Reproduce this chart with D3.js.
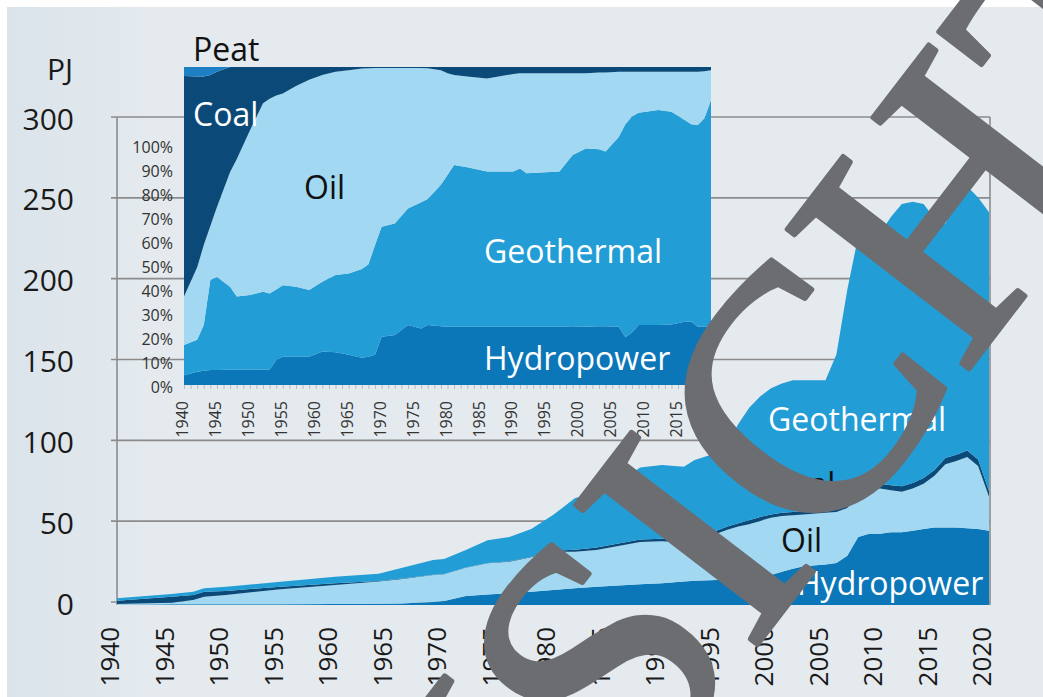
<!DOCTYPE html>
<html>
<head>
<meta charset="utf-8">
<title>Primary energy use 1940-2020</title>
<script src="https://d3js.org/d3.v7.min.js"></script>
<style>
	body { margin: 0; background: #fff; }
	svg { display: block; font-family: "Open Sans", "Noto Sans", sans-serif; }
	.grid { stroke: #8b8b8b; stroke-width: 1.6; }
	.ylab { font-size: 30px; fill: #1a1a1a; }
	.xlab { font-size: 26px; fill: #1a1a1a; }
	.ilab { font-size: 16px; fill: #333; }
	.area-label { font-size: 32px; }
</style>
</head>
<body>
<script>

// ---------------- main chart, PJ per source ----------------
var years      = [1940,1945,1947,1948,1950,1955,1960,1964,1966,1969,1970,1972,1974,1976,1978,1980,1982,1984,1986,1988,1990,1992,1993,1995,1996,1997,1998,1999,2000,2001,2002,2003,2005,2006,2007,2008,2009,2010,2011,2012,2013,2014,2015,2016,2017,2018,2019,2020];
var hydropower = [0.2,0.4,0.5,0.5,0.5,0.5,0.6,0.8,1.0,1.8,2.5,5.5,6.5,7.2,8.2,9.3,10.3,11.3,12.0,12.8,13.5,14.5,15.0,15.5,15.8,16.2,16.5,17.5,18.5,20.5,22.5,24.0,25.0,26.0,30.5,42,44,44,45,45,46,47,48,48,48,47.5,47,46];
var oil        = [0.4,1.0,2.6,4.6,5.7,9.2,11.8,13.7,15.0,16.7,16.5,17.5,19.3,19.6,21.3,23.7,22.7,22.7,24.5,26.2,26.0,24.0,25.0,28.5,30.7,32.3,33.5,34.5,35.5,34.5,33.0,32.0,32.0,31.5,29.5,27,28,28,26,25,26,28,32,39,41,44,39,21];
var coal       = [2.1,3.7,3.1,3.1,2.5,1.6,1.0,0.4,0.3,0.2,0.2,0.2,0.2,0.3,0.4,0.6,1.2,1.5,1.5,1.5,1.5,2,2,2,2,2,2.5,2.5,2,2,2,2,2,2,2.5,3,3,3,3,3.5,3.5,3.5,3.5,4,4,4,4,3.5];
var geothermal = [1.4,1.7,2.0,2.1,2.6,3.1,4.1,4.4,6.4,9.1,9.3,10.8,14.0,14.9,17.1,22.0,31.8,34.5,38.0,44.5,45.6,45.0,47.7,48.0,51.5,61.5,69.5,74.5,78.0,80.0,81.5,81.0,80.0,95.5,132.5,156,156,155,166,174.5,174,169.5,155.5,145,157,163.5,162,172.5];

var yTicks = [0, 50, 100, 150, 200, 250, 300];
var xTicks = [1940,1945,1950,1955,1960,1965,1970,1975,1980,1985,1990,1995,2000,2005,2010,2015,2020];

// ---------------- inset, share of total in % ----------------
var insetYears = [1940,1942,1943,1944,1945,1947,1948,1950,1952,1953,1954,1955,1957,1959,1961,1963,1965,1967,1968,1969,1970,1972,1974,1976,1977,1979,1980,1981,1983,1986,1990,1991,1992,1997,1999,2001,2003,2004,2006,2007,2008,2009,2012,2014,2016,2017,2018,2019,2020];
var insetHydro = [3.1,4.2,4.5,4.7,4.7,4.8,4.8,4.8,4.9,4.9,7.9,8.9,8.9,8.9,10.5,10.3,9.5,8.6,8.9,9.5,15.2,15.7,18.9,17.8,18.9,18.5,18.3,18.3,18.3,18.3,18.3,18.3,18.3,18.3,18.5,18.3,18.5,18.5,18.3,15.0,16.5,18.9,18.9,19.0,19.9,19.9,18.3,18.3,18.3];
var insetGeo   = [9.5,10.0,14.4,28.3,29.3,26.1,23.0,23.5,24.4,23.9,22.1,22.5,22.0,21.0,22.0,24.3,25.6,27.9,29.1,34.5,34.6,35.1,36.6,39.7,39.6,44.5,47.7,50.9,50.2,48.8,48.8,49.8,48.3,48.8,53.8,56.1,55.6,54.9,59.7,67.0,67.9,66.7,67.6,66.9,63.4,62.1,63.5,65.6,71.3];
var insetOil   = [15.2,22.8,25.1,17.0,22.0,36.1,43.2,51.7,59.3,61.2,61.0,60.3,63.1,66.1,65.0,63.9,63.9,63.0,61.6,55.7,49.9,48.9,44.2,42.2,41.1,36.0,32.0,28.3,28.5,29.3,30.7,29.9,31.4,30.9,25.7,23.6,24.2,24.9,20.5,16.5,14.1,12.9,12.0,12.6,15.2,16.5,16.7,14.8,9.4];
var insetCoal  = [69.4,60.0,53.0,47.5,42.5,33.0,29.0,20.0,11.4,10.0,9.0,8.3,6.0,4.0,2.5,1.5,1.0,0.5,0.4,0.3,0.3,0.3,0.3,0.3,0.4,1.0,2.0,2.5,3.0,3.6,2.2,2.0,2.0,2.0,2.0,2.0,1.7,1.7,1.5,1.5,1.5,1.5,1.5,1.5,1.5,1.5,1.5,1.3,1.0];
var insetPeat  = [2.8,3.0,3.0,2.5,1.5,0,0,0,0,0,0,0,0,0,0,0,0,0,0,0,0,0,0,0,0,0,0,0,0,0,0,0,0,0,0,0,0,0,0,0,0,0,0,0,0,0,0,0,0];

var pctTicks   = [0,10,20,30,40,50,60,70,80,90,100];
var insetTicks = [1940,1945,1950,1955,1960,1965,1970,1975,1980,1985,1990,1995,2000,2005,2010,2015,2020];

var colors = {
	hydropower: "#0b77b9",
	geothermal: "#239dd6",
	oil: "#a2d8f1",
	coal: "#0b4a78",
	peat: "#1e80c4"
};

var svg = d3.select("body").append("svg")
	.attr("width", 1043)
	.attr("height", 697);

// background
var defs = svg.append("defs");
var bg = defs.append("linearGradient").attr("id", "bg").attr("x1", 0).attr("x2", 1).attr("y1", 0).attr("y2", 0);
bg.append("stop").attr("offset", "0%").attr("stop-color", "#dbe4eb");
bg.append("stop").attr("offset", "14%").attr("stop-color", "#e4eaee");
bg.append("stop").attr("offset", "100%").attr("stop-color", "#e4eaee");
svg.append("rect").attr("x", 7).attr("y", 7).attr("width", 1036).attr("height", 690).attr("fill", "url(#bg)");

// ---------------- main chart ----------------
var x = d3.scaleLinear().domain([1940, 2020]).range([117, 989]);
var y = d3.scaleLinear().domain([0, 300]).range([602, 117]);

// grid + frame
svg.append("g").selectAll("line").data(yTicks).enter().append("line")
	.attr("class", "grid")
	.attr("x1", 111).attr("x2", 990)
	.attr("y1", function (d){ return y(d) }).attr("y2", function (d){ return y(d) });
svg.append("line").attr("class", "grid").attr("x1", 117).attr("x2", 117).attr("y1", y(300)).attr("y2", y(0) + 3);
svg.append("line").attr("class", "grid").attr("x1", 990).attr("x2", 990).attr("y1", y(300)).attr("y2", y(0) + 3);

svg.append("g").selectAll("text").data(yTicks).enter().append("text")
	.attr("class", "ylab")
	.attr("x", 74).attr("y", function (d){ return y(d) + 2 })
	.attr("dy", "0.35em").attr("text-anchor", "end")
	.text(function (d){ return d });
svg.append("text").attr("class", "ylab").attr("x", 73).attr("y", 80).attr("text-anchor", "end").text("PJ");

svg.append("g").selectAll("text").data(xTicks).enter().append("text")
	.attr("class", "xlab")
	.attr("transform", function (d){ return "translate(" + (x(d) - 7) + ",627) rotate(-90)" })
	.attr("dy", "0.35em").attr("text-anchor", "end")
	.text(function (d){ return d });

var rows = years.map(function (yr, i){
	return { year: yr, hydropower: hydropower[i], oil: oil[i], coal: coal[i], geothermal: geothermal[i] };
});
var stack = d3.stack().keys(["hydropower", "oil", "coal", "geothermal"]);
var area = d3.area()
	.x(function (d){ return x(d.data.year) })
	.y0(function (d){ return y(d[0]) })
	.y1(function (d){ return y(d[1]) });

// the areas sit a few px under the grid in the original
svg.append("g").attr("transform", "translate(0,3)")
	.selectAll("path").data(stack(rows)).enter().append("path")
	.attr("d", area)
	.attr("fill", function (d){ return colors[d.key] });

var mainLabels = [
	{ t: "Geothermal", x: 768, y: 431, c: "#fff" },
	{ t: "Coal", x: 770, y: 496, c: "#111" },
	{ t: "Oil", x: 781, y: 552, c: "#111" },
	{ t: "Hydropower", x: 797, y: 595, c: "#fff" }
];
svg.append("g").selectAll("text").data(mainLabels).enter().append("text")
	.attr("class", "area-label")
	.attr("x", function (d){ return d.x }).attr("y", function (d){ return d.y })
	.attr("fill", function (d){ return d.c })
	.text(function (d){ return d.t });

// ---------------- inset (shares) ----------------
var ix = d3.scaleLinear().domain([1940, 2020]).range([184, 711]);
var iy = d3.scaleLinear().domain([0, 1]).range([385, 67]);
var pctY = d3.scaleLinear().domain([0, 100]).range([387, 147]);

var insetRows = insetYears.map(function (yr, i){
	return { year: yr, hydropower: insetHydro[i], geothermal: insetGeo[i], oil: insetOil[i], coal: insetCoal[i], peat: insetPeat[i] };
});
var insetStack = d3.stack()
	.keys(["hydropower", "geothermal", "oil", "coal", "peat"])
	.offset(d3.stackOffsetExpand);
var insetArea = d3.area()
	.x(function (d){ return ix(d.data.year) })
	.y0(function (d){ return iy(d[0]) })
	.y1(function (d){ return iy(d[1]) });

svg.append("g").selectAll("path").data(insetStack(insetRows)).enter().append("path")
	.attr("d", insetArea)
	.attr("fill", function (d){ return colors[d.key] });

// small year ticks under the inset
var insetAxis = svg.append("g").attr("transform", "translate(0,385)")
	.call(d3.axisBottom(ix).ticks(80).tickSize(4).tickFormat(""));
insetAxis.select(".domain").remove();
insetAxis.selectAll("line").attr("stroke", "#b9bec2");

svg.append("g").selectAll("text").data(insetTicks).enter().append("text")
	.attr("class", "ilab")
	.attr("transform", function (d){ return "translate(" + (ix(d) - 1.5) + ",401) rotate(-90)" })
	.attr("dy", "0.35em").attr("text-anchor", "end")
	.text(function (d){ return d });

svg.append("g").selectAll("text").data(pctTicks).enter().append("text")
	.attr("class", "ilab")
	.attr("x", 173).attr("y", function (d){ return pctY(d) })
	.attr("dy", "0.35em").attr("text-anchor", "end")
	.text(function (d){ return d + "%" });

var insetLabels = [
	{ t: "Peat", x: 193, y: 61, c: "#111" },
	{ t: "Coal", x: 193, y: 126, c: "#fff" },
	{ t: "Oil", x: 304, y: 199, c: "#111" },
	{ t: "Geothermal", x: 484, y: 263, c: "#fff" },
	{ t: "Hydropower", x: 484, y: 370, c: "#fff" }
];
svg.append("g").selectAll("text").data(insetLabels).enter().append("text")
	.attr("class", "area-label")
	.attr("x", function (d){ return d.x }).attr("y", function (d){ return d.y })
	.attr("fill", function (d){ return d.c })
	.text(function (d){ return d.t });

// ---------------- watermark ----------------
svg.append("text")
	.attr("transform", "translate(693,538) rotate(-52.5)")
	.attr("x", -758).attr("y", 116)
	.attr("font-family", "'Liberation Serif', 'DejaVu Serif', serif")
	.attr("font-size", 350)
	.attr("fill", "#6c6d71")
	.attr("stroke", "#6c6d71")
	.attr("stroke-width", 5)
	.attr("stroke-linejoin", "round")
	.text("ANSICHT");

</script>
</body>
</html>
